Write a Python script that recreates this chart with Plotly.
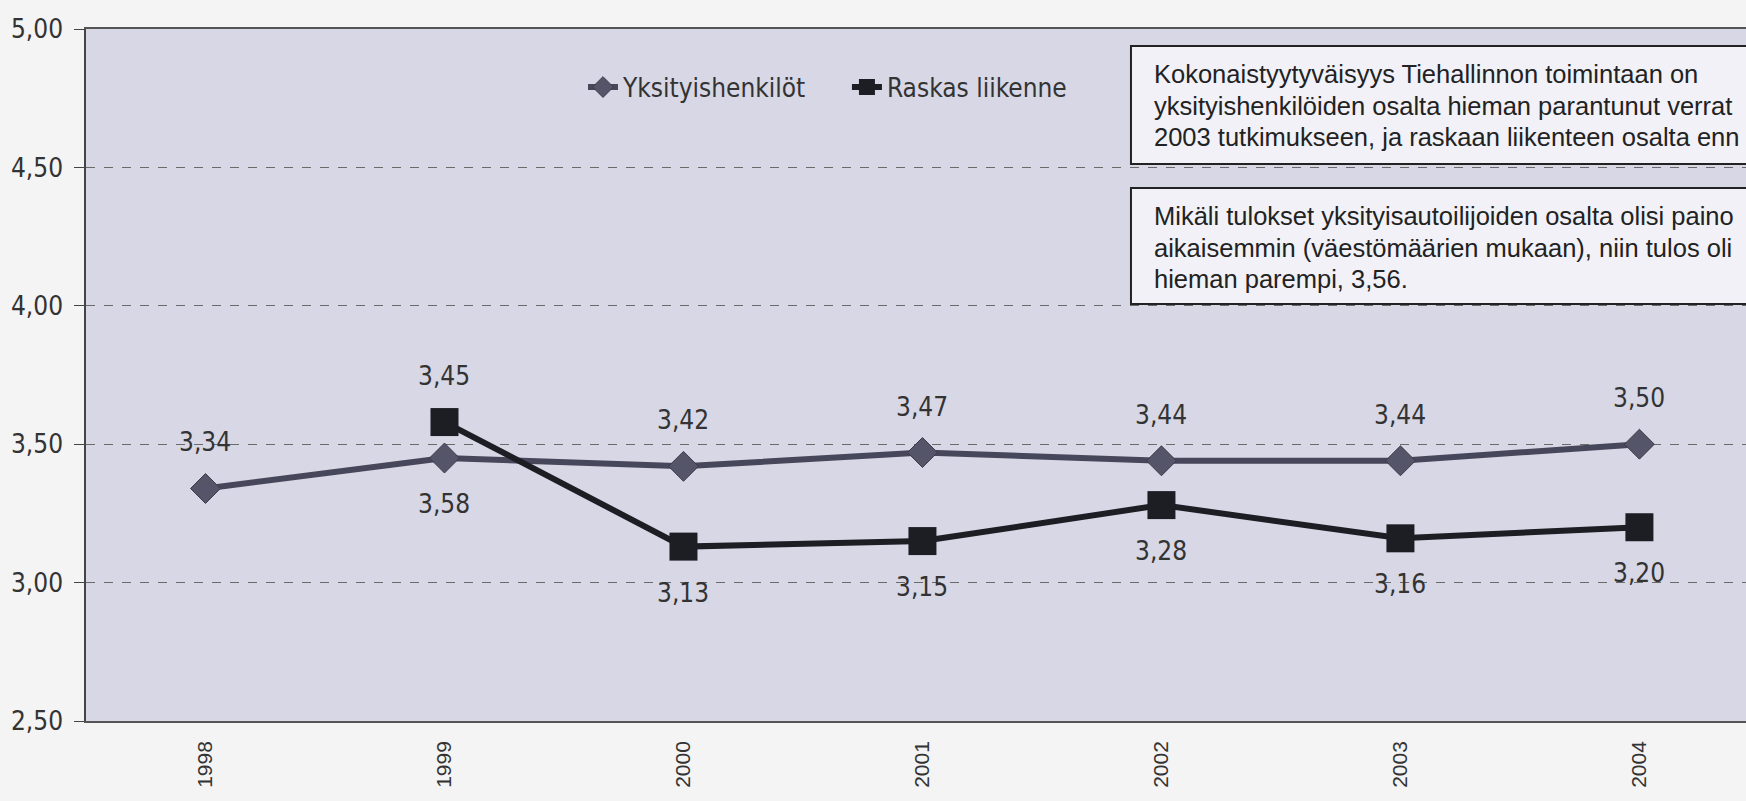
import plotly.graph_objects as go

# ------------------------------------------------------------------
# Data
# ------------------------------------------------------------------
years = ["1998", "1999", "2000", "2001", "2002", "2003", "2004"]
yksityis = [3.34, 3.45, 3.42, 3.47, 3.44, 3.44, 3.50]
raskas = [None, 3.58, 3.13, 3.15, 3.28, 3.16, 3.20]

# laatikoiden tekstit sellaisina kuin ne näkyvät (oikea reuna rajautuu kuvasta)
note_1 = [
    "Kokonaistyytyväisyys Tiehallinnon toimintaan on",
    "yksityishenkilöiden osalta hieman parantunut verrat",
    "2003 tutkimukseen, ja raskaan liikenteen osalta enn",
]
note_2 = [
    "Mikäli tulokset yksityisautoilijoiden osalta olisi paino",
    "aikaisemmin (väestömäärien mukaan), niin tulos oli",
    "hieman parempi, 3,56.",
]

NARROW = "DejaVu Sans Condensed, Liberation Sans Narrow, Liberation Sans"
REGULAR = "Liberation Sans, Arial, sans-serif"


def fmt(v):
    return f"{v:.2f}".replace(".", ",")


fig = go.Figure()

fig.add_trace(go.Scatter(
    x=years, y=yksityis, name="Yksityishenkilöt", mode="lines+markers",
    line=dict(color="#47475b", width=6),
    marker=dict(symbol="diamond", size=23, color="#55556a",
                line=dict(color="#3a3a4a", width=1)),
    legend="legend",
))
fig.add_trace(go.Scatter(
    x=years, y=raskas, name="Raskas liikenne", mode="lines+markers",
    line=dict(color="#1d1d24", width=6),
    marker=dict(symbol="square", size=28, color="#1d1d24"),
    legend="legend2",
))

# arvotunnisteet: ylempi arvo pisteiden yläpuolelle, alempi alapuolelle
annotations = []
for i in range(len(years)):
    a, b = yksityis[i], raskas[i]
    top = a if b is None else max(a, b)
    annotations.append(dict(
        x=i, y=top, text=fmt(a), showarrow=False, yshift=46,
        font=dict(family=NARROW, size=26, color="#333333"),
    ))
    if b is not None:
        annotations.append(dict(
            x=i, y=min(a, b), text=fmt(b), showarrow=False, yshift=-46,
            font=dict(family=NARROW, size=26, color="#333333"),
        ))

# tekstilaatikot oikeassa yläkulmassa
shapes = []
for (y0, y1), lines in [((0.8049, 0.9754), note_1), ((0.6026, 0.7702), note_2)]:
    shapes.append(dict(
        type="rect", xref="paper", yref="paper", x0=0.6295, x1=1.05, y0=y0, y1=y1,
        fillcolor="#f1f1f7", line=dict(color="#222222", width=2), layer="above",
    ))
    for k, txt in enumerate(lines):
        annotations.append(dict(
            xref="paper", yref="paper", x=0.6422, y=y1 - 0.041 - k * 0.0455,
            xanchor="left", yanchor="middle", text=txt, showarrow=False,
            font=dict(family=REGULAR, size=25.5, color="#222222"),
        ))

legend_style = dict(
    orientation="h", y=0.916, xanchor="left", yanchor="middle",
    bgcolor="rgba(0,0,0,0)", font=dict(family=NARROW, size=26, color="#333333"),
    itemwidth=30,
)

fig.update_layout(
    width=1746, height=801,
    margin=dict(l=86, r=0, t=29, b=80),
    paper_bgcolor="#f4f4f4",
    plot_bgcolor="#d7d7e6",
    separators=", ",
    showlegend=True,
    legend=dict(x=0.2994, **legend_style),
    legend2=dict(x=0.4584, **legend_style),
    xaxis=dict(
        type="category", range=[-0.5, 6.446],
        showgrid=False, showline=True, mirror=True, linecolor="#555555", linewidth=1.5,
        ticks="", tickangle=-90, ticklabelstandoff=10,
        tickfont=dict(family=REGULAR, size=21, color="#333333"),
    ),
    yaxis=dict(
        range=[2.5, 5.0], dtick=0.5, tickformat=".2f",
        showgrid=True, gridcolor="#6a6a6a", griddash="dash", gridwidth=1,
        showline=True, linecolor="#444444", linewidth=1.5,
        ticks="outside", ticklen=10, tickcolor="#444444", zeroline=False,
        ticklabelstandoff=6,
        tickfont=dict(family=NARROW, size=26, color="#333333"),
    ),
    annotations=annotations,
    shapes=shapes,
)

fig.write_html(
    "out.html",
    config={"displayModeBar": False},
    post_script="document.body.style.margin = '0';",
)
